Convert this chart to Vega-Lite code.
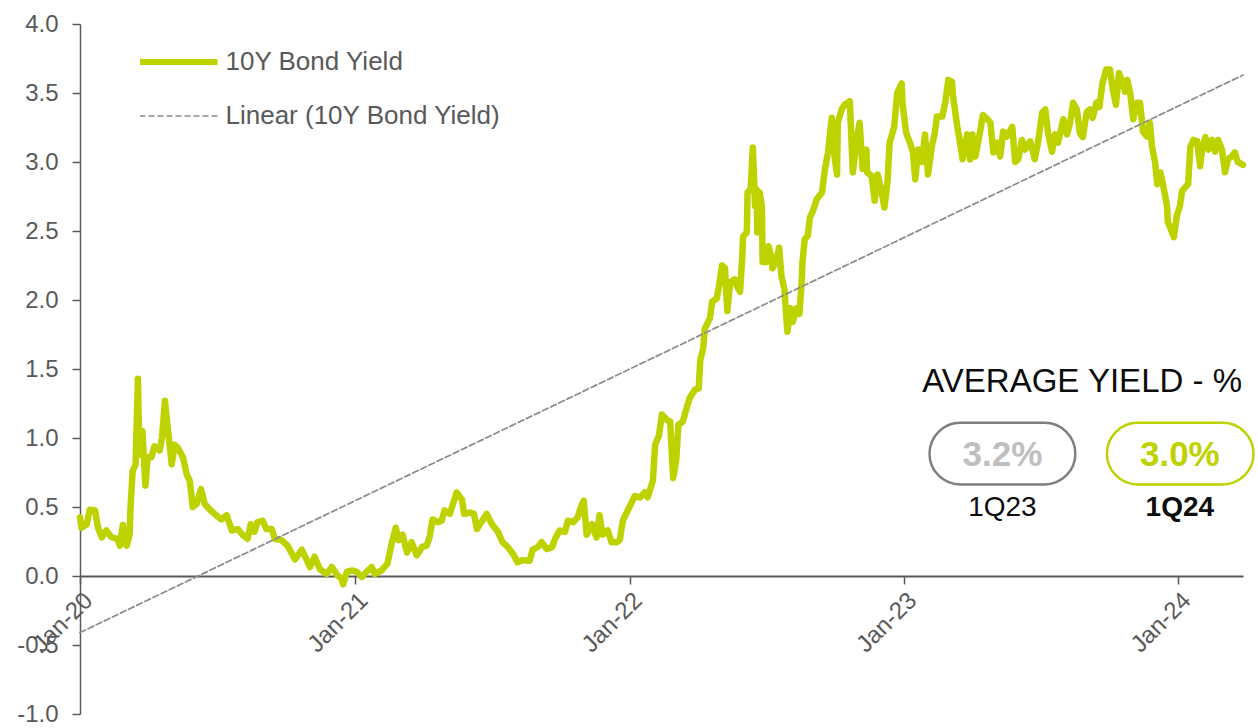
{
  "$schema": "https://vega.github.io/schema/vega-lite/v6.json",
  "width": 1163,
  "height": 690,
  "autosize": {"type": "none"},
  "padding": {"left": 80, "top": 24, "right": 15, "bottom": 14},
  "background": "#ffffff",
  "config": {"view": {"stroke": null}, "font": "Liberation Sans", "axis": {"grid": false}},
  "datasets": {
    "yield": [
      {"series":"10Y Bond Yield","date":"2020-01-01","value":0.425},
      {"series":"10Y Bond Yield","date":"2020-01-03","value":0.35},
      {"series":"10Y Bond Yield","date":"2020-01-10","value":0.375},
      {"series":"10Y Bond Yield","date":"2020-01-14","value":0.48},
      {"series":"10Y Bond Yield","date":"2020-01-21","value":0.475},
      {"series":"10Y Bond Yield","date":"2020-01-25","value":0.35},
      {"series":"10Y Bond Yield","date":"2020-01-30","value":0.28},
      {"series":"10Y Bond Yield","date":"2020-02-05","value":0.33},
      {"series":"10Y Bond Yield","date":"2020-02-12","value":0.28},
      {"series":"10Y Bond Yield","date":"2020-02-20","value":0.27},
      {"series":"10Y Bond Yield","date":"2020-02-23","value":0.22},
      {"series":"10Y Bond Yield","date":"2020-02-27","value":0.37},
      {"series":"10Y Bond Yield","date":"2020-03-03","value":0.22},
      {"series":"10Y Bond Yield","date":"2020-03-07","value":0.30},
      {"series":"10Y Bond Yield","date":"2020-03-08","value":0.475},
      {"series":"10Y Bond Yield","date":"2020-03-11","value":0.76},
      {"series":"10Y Bond Yield","date":"2020-03-15","value":0.81},
      {"series":"10Y Bond Yield","date":"2020-03-18","value":1.43},
      {"series":"10Y Bond Yield","date":"2020-03-20","value":0.88},
      {"series":"10Y Bond Yield","date":"2020-03-24","value":1.05},
      {"series":"10Y Bond Yield","date":"2020-03-28","value":0.655},
      {"series":"10Y Bond Yield","date":"2020-03-31","value":0.86},
      {"series":"10Y Bond Yield","date":"2020-04-05","value":0.86},
      {"series":"10Y Bond Yield","date":"2020-04-09","value":0.94},
      {"series":"10Y Bond Yield","date":"2020-04-16","value":0.91},
      {"series":"10Y Bond Yield","date":"2020-04-19","value":1.0},
      {"series":"10Y Bond Yield","date":"2020-04-23","value":1.27},
      {"series":"10Y Bond Yield","date":"2020-04-27","value":1.06},
      {"series":"10Y Bond Yield","date":"2020-05-02","value":0.81},
      {"series":"10Y Bond Yield","date":"2020-05-06","value":0.95},
      {"series":"10Y Bond Yield","date":"2020-05-10","value":0.93},
      {"series":"10Y Bond Yield","date":"2020-05-17","value":0.86},
      {"series":"10Y Bond Yield","date":"2020-05-22","value":0.735},
      {"series":"10Y Bond Yield","date":"2020-05-26","value":0.69},
      {"series":"10Y Bond Yield","date":"2020-05-30","value":0.50},
      {"series":"10Y Bond Yield","date":"2020-06-04","value":0.52},
      {"series":"10Y Bond Yield","date":"2020-06-10","value":0.63},
      {"series":"10Y Bond Yield","date":"2020-06-15","value":0.52},
      {"series":"10Y Bond Yield","date":"2020-06-22","value":0.48},
      {"series":"10Y Bond Yield","date":"2020-06-28","value":0.45},
      {"series":"10Y Bond Yield","date":"2020-07-07","value":0.41},
      {"series":"10Y Bond Yield","date":"2020-07-14","value":0.44},
      {"series":"10Y Bond Yield","date":"2020-07-21","value":0.33},
      {"series":"10Y Bond Yield","date":"2020-07-29","value":0.34},
      {"series":"10Y Bond Yield","date":"2020-08-04","value":0.30},
      {"series":"10Y Bond Yield","date":"2020-08-11","value":0.27},
      {"series":"10Y Bond Yield","date":"2020-08-15","value":0.375},
      {"series":"10Y Bond Yield","date":"2020-08-20","value":0.32},
      {"series":"10Y Bond Yield","date":"2020-08-24","value":0.39},
      {"series":"10Y Bond Yield","date":"2020-08-31","value":0.40},
      {"series":"10Y Bond Yield","date":"2020-09-05","value":0.34},
      {"series":"10Y Bond Yield","date":"2020-09-12","value":0.34},
      {"series":"10Y Bond Yield","date":"2020-09-16","value":0.27},
      {"series":"10Y Bond Yield","date":"2020-09-25","value":0.26},
      {"series":"10Y Bond Yield","date":"2020-10-03","value":0.22},
      {"series":"10Y Bond Yield","date":"2020-10-13","value":0.12},
      {"series":"10Y Bond Yield","date":"2020-10-22","value":0.19},
      {"series":"10Y Bond Yield","date":"2020-10-30","value":0.10},
      {"series":"10Y Bond Yield","date":"2020-11-02","value":0.065},
      {"series":"10Y Bond Yield","date":"2020-11-08","value":0.14},
      {"series":"10Y Bond Yield","date":"2020-11-15","value":0.05},
      {"series":"10Y Bond Yield","date":"2020-11-24","value":0.015},
      {"series":"10Y Bond Yield","date":"2020-12-01","value":0.065},
      {"series":"10Y Bond Yield","date":"2020-12-08","value":0.007},
      {"series":"10Y Bond Yield","date":"2020-12-14","value":-0.02},
      {"series":"10Y Bond Yield","date":"2020-12-16","value":-0.06},
      {"series":"10Y Bond Yield","date":"2020-12-21","value":0.03},
      {"series":"10Y Bond Yield","date":"2020-12-28","value":0.04},
      {"series":"10Y Bond Yield","date":"2021-01-03","value":0.03},
      {"series":"10Y Bond Yield","date":"2021-01-10","value":-0.007},
      {"series":"10Y Bond Yield","date":"2021-01-16","value":0.03},
      {"series":"10Y Bond Yield","date":"2021-01-23","value":0.065},
      {"series":"10Y Bond Yield","date":"2021-01-27","value":0.015},
      {"series":"10Y Bond Yield","date":"2021-02-05","value":0.04},
      {"series":"10Y Bond Yield","date":"2021-02-13","value":0.09},
      {"series":"10Y Bond Yield","date":"2021-02-19","value":0.245},
      {"series":"10Y Bond Yield","date":"2021-02-24","value":0.35},
      {"series":"10Y Bond Yield","date":"2021-02-28","value":0.26},
      {"series":"10Y Bond Yield","date":"2021-03-05","value":0.30},
      {"series":"10Y Bond Yield","date":"2021-03-11","value":0.17},
      {"series":"10Y Bond Yield","date":"2021-03-17","value":0.245},
      {"series":"10Y Bond Yield","date":"2021-03-24","value":0.15},
      {"series":"10Y Bond Yield","date":"2021-03-31","value":0.21},
      {"series":"10Y Bond Yield","date":"2021-04-06","value":0.22},
      {"series":"10Y Bond Yield","date":"2021-04-10","value":0.28},
      {"series":"10Y Bond Yield","date":"2021-04-14","value":0.41},
      {"series":"10Y Bond Yield","date":"2021-04-21","value":0.39},
      {"series":"10Y Bond Yield","date":"2021-04-26","value":0.40},
      {"series":"10Y Bond Yield","date":"2021-04-30","value":0.475},
      {"series":"10Y Bond Yield","date":"2021-05-07","value":0.45},
      {"series":"10Y Bond Yield","date":"2021-05-11","value":0.52},
      {"series":"10Y Bond Yield","date":"2021-05-16","value":0.605},
      {"series":"10Y Bond Yield","date":"2021-05-23","value":0.555},
      {"series":"10Y Bond Yield","date":"2021-05-26","value":0.45},
      {"series":"10Y Bond Yield","date":"2021-06-03","value":0.46},
      {"series":"10Y Bond Yield","date":"2021-06-08","value":0.45},
      {"series":"10Y Bond Yield","date":"2021-06-12","value":0.34},
      {"series":"10Y Bond Yield","date":"2021-06-19","value":0.40},
      {"series":"10Y Bond Yield","date":"2021-06-25","value":0.45},
      {"series":"10Y Bond Yield","date":"2021-07-02","value":0.375},
      {"series":"10Y Bond Yield","date":"2021-07-10","value":0.32},
      {"series":"10Y Bond Yield","date":"2021-07-16","value":0.245},
      {"series":"10Y Bond Yield","date":"2021-07-23","value":0.21},
      {"series":"10Y Bond Yield","date":"2021-07-30","value":0.16},
      {"series":"10Y Bond Yield","date":"2021-08-05","value":0.10},
      {"series":"10Y Bond Yield","date":"2021-08-12","value":0.115},
      {"series":"10Y Bond Yield","date":"2021-08-21","value":0.11},
      {"series":"10Y Bond Yield","date":"2021-08-25","value":0.19},
      {"series":"10Y Bond Yield","date":"2021-09-01","value":0.21},
      {"series":"10Y Bond Yield","date":"2021-09-06","value":0.245},
      {"series":"10Y Bond Yield","date":"2021-09-13","value":0.195},
      {"series":"10Y Bond Yield","date":"2021-09-20","value":0.21},
      {"series":"10Y Bond Yield","date":"2021-09-24","value":0.27},
      {"series":"10Y Bond Yield","date":"2021-09-30","value":0.33},
      {"series":"10Y Bond Yield","date":"2021-10-07","value":0.32},
      {"series":"10Y Bond Yield","date":"2021-10-11","value":0.40},
      {"series":"10Y Bond Yield","date":"2021-10-18","value":0.39},
      {"series":"10Y Bond Yield","date":"2021-10-24","value":0.425},
      {"series":"10Y Bond Yield","date":"2021-10-29","value":0.51},
      {"series":"10Y Bond Yield","date":"2021-11-01","value":0.545},
      {"series":"10Y Bond Yield","date":"2021-11-05","value":0.30},
      {"series":"10Y Bond Yield","date":"2021-11-12","value":0.375},
      {"series":"10Y Bond Yield","date":"2021-11-18","value":0.28},
      {"series":"10Y Bond Yield","date":"2021-11-22","value":0.44},
      {"series":"10Y Bond Yield","date":"2021-11-26","value":0.30},
      {"series":"10Y Bond Yield","date":"2021-12-03","value":0.33},
      {"series":"10Y Bond Yield","date":"2021-12-08","value":0.245},
      {"series":"10Y Bond Yield","date":"2021-12-15","value":0.245},
      {"series":"10Y Bond Yield","date":"2021-12-19","value":0.26},
      {"series":"10Y Bond Yield","date":"2021-12-23","value":0.40},
      {"series":"10Y Bond Yield","date":"2021-12-30","value":0.48},
      {"series":"10Y Bond Yield","date":"2022-01-08","value":0.58},
      {"series":"10Y Bond Yield","date":"2022-01-15","value":0.57},
      {"series":"10Y Bond Yield","date":"2022-01-21","value":0.605},
      {"series":"10Y Bond Yield","date":"2022-01-25","value":0.57},
      {"series":"10Y Bond Yield","date":"2022-02-01","value":0.69},
      {"series":"10Y Bond Yield","date":"2022-02-04","value":0.95},
      {"series":"10Y Bond Yield","date":"2022-02-09","value":1.015},
      {"series":"10Y Bond Yield","date":"2022-02-13","value":1.17},
      {"series":"10Y Bond Yield","date":"2022-02-20","value":1.13},
      {"series":"10Y Bond Yield","date":"2022-02-24","value":1.12},
      {"series":"10Y Bond Yield","date":"2022-02-28","value":0.71},
      {"series":"10Y Bond Yield","date":"2022-03-04","value":0.835},
      {"series":"10Y Bond Yield","date":"2022-03-07","value":1.095},
      {"series":"10Y Bond Yield","date":"2022-03-13","value":1.12},
      {"series":"10Y Bond Yield","date":"2022-03-18","value":1.22},
      {"series":"10Y Bond Yield","date":"2022-03-22","value":1.29},
      {"series":"10Y Bond Yield","date":"2022-03-29","value":1.35},
      {"series":"10Y Bond Yield","date":"2022-04-03","value":1.36},
      {"series":"10Y Bond Yield","date":"2022-04-05","value":1.56},
      {"series":"10Y Bond Yield","date":"2022-04-09","value":1.65},
      {"series":"10Y Bond Yield","date":"2022-04-11","value":1.79},
      {"series":"10Y Bond Yield","date":"2022-04-18","value":1.87},
      {"series":"10Y Bond Yield","date":"2022-04-21","value":1.99},
      {"series":"10Y Bond Yield","date":"2022-04-27","value":2.01},
      {"series":"10Y Bond Yield","date":"2022-04-30","value":2.10},
      {"series":"10Y Bond Yield","date":"2022-05-04","value":2.25},
      {"series":"10Y Bond Yield","date":"2022-05-08","value":2.23},
      {"series":"10Y Bond Yield","date":"2022-05-11","value":1.92},
      {"series":"10Y Bond Yield","date":"2022-05-15","value":2.13},
      {"series":"10Y Bond Yield","date":"2022-05-21","value":2.15},
      {"series":"10Y Bond Yield","date":"2022-05-24","value":2.10},
      {"series":"10Y Bond Yield","date":"2022-05-28","value":2.06},
      {"series":"10Y Bond Yield","date":"2022-05-31","value":2.32},
      {"series":"10Y Bond Yield","date":"2022-06-01","value":2.46},
      {"series":"10Y Bond Yield","date":"2022-06-06","value":2.49},
      {"series":"10Y Bond Yield","date":"2022-06-07","value":2.78},
      {"series":"10Y Bond Yield","date":"2022-06-11","value":2.80},
      {"series":"10Y Bond Yield","date":"2022-06-14","value":3.105},
      {"series":"10Y Bond Yield","date":"2022-06-17","value":2.68},
      {"series":"10Y Bond Yield","date":"2022-06-19","value":2.80},
      {"series":"10Y Bond Yield","date":"2022-06-20","value":2.49},
      {"series":"10Y Bond Yield","date":"2022-06-23","value":2.78},
      {"series":"10Y Bond Yield","date":"2022-06-26","value":2.68},
      {"series":"10Y Bond Yield","date":"2022-06-27","value":2.275},
      {"series":"10Y Bond Yield","date":"2022-07-02","value":2.275},
      {"series":"10Y Bond Yield","date":"2022-07-05","value":2.39},
      {"series":"10Y Bond Yield","date":"2022-07-09","value":2.30},
      {"series":"10Y Bond Yield","date":"2022-07-10","value":2.23},
      {"series":"10Y Bond Yield","date":"2022-07-15","value":2.28},
      {"series":"10Y Bond Yield","date":"2022-07-19","value":2.38},
      {"series":"10Y Bond Yield","date":"2022-07-22","value":2.175},
      {"series":"10Y Bond Yield","date":"2022-07-26","value":2.08},
      {"series":"10Y Bond Yield","date":"2022-07-29","value":1.84},
      {"series":"10Y Bond Yield","date":"2022-07-30","value":1.77},
      {"series":"10Y Bond Yield","date":"2022-08-03","value":1.94},
      {"series":"10Y Bond Yield","date":"2022-08-06","value":1.84},
      {"series":"10Y Bond Yield","date":"2022-08-11","value":1.94},
      {"series":"10Y Bond Yield","date":"2022-08-15","value":1.90},
      {"series":"10Y Bond Yield","date":"2022-08-18","value":2.13},
      {"series":"10Y Bond Yield","date":"2022-08-19","value":2.275},
      {"series":"10Y Bond Yield","date":"2022-08-22","value":2.44},
      {"series":"10Y Bond Yield","date":"2022-08-26","value":2.465},
      {"series":"10Y Bond Yield","date":"2022-08-29","value":2.60},
      {"series":"10Y Bond Yield","date":"2022-09-02","value":2.645},
      {"series":"10Y Bond Yield","date":"2022-09-07","value":2.73},
      {"series":"10Y Bond Yield","date":"2022-09-14","value":2.78},
      {"series":"10Y Bond Yield","date":"2022-09-18","value":2.95},
      {"series":"10Y Bond Yield","date":"2022-09-22","value":3.07},
      {"series":"10Y Bond Yield","date":"2022-09-27","value":3.32},
      {"series":"10Y Bond Yield","date":"2022-10-01","value":3.02},
      {"series":"10Y Bond Yield","date":"2022-10-04","value":2.91},
      {"series":"10Y Bond Yield","date":"2022-10-05","value":3.285},
      {"series":"10Y Bond Yield","date":"2022-10-10","value":3.38},
      {"series":"10Y Bond Yield","date":"2022-10-14","value":3.415},
      {"series":"10Y Bond Yield","date":"2022-10-21","value":3.44},
      {"series":"10Y Bond Yield","date":"2022-10-25","value":2.925},
      {"series":"10Y Bond Yield","date":"2022-10-30","value":3.16},
      {"series":"10Y Bond Yield","date":"2022-11-03","value":3.285},
      {"series":"10Y Bond Yield","date":"2022-11-07","value":2.95},
      {"series":"10Y Bond Yield","date":"2022-11-12","value":3.09},
      {"series":"10Y Bond Yield","date":"2022-11-13","value":2.925},
      {"series":"10Y Bond Yield","date":"2022-11-19","value":2.90},
      {"series":"10Y Bond Yield","date":"2022-11-23","value":2.72},
      {"series":"10Y Bond Yield","date":"2022-11-27","value":2.91},
      {"series":"10Y Bond Yield","date":"2022-12-02","value":2.79},
      {"series":"10Y Bond Yield","date":"2022-12-06","value":2.67},
      {"series":"10Y Bond Yield","date":"2022-12-10","value":2.85},
      {"series":"10Y Bond Yield","date":"2022-12-13","value":3.14},
      {"series":"10Y Bond Yield","date":"2022-12-19","value":3.255},
      {"series":"10Y Bond Yield","date":"2022-12-23","value":3.50},
      {"series":"10Y Bond Yield","date":"2022-12-29","value":3.57},
      {"series":"10Y Bond Yield","date":"2022-12-30","value":3.43},
      {"series":"10Y Bond Yield","date":"2023-01-04","value":3.21},
      {"series":"10Y Bond Yield","date":"2023-01-09","value":3.14},
      {"series":"10Y Bond Yield","date":"2023-01-13","value":3.07},
      {"series":"10Y Bond Yield","date":"2023-01-16","value":2.875},
      {"series":"10Y Bond Yield","date":"2023-01-20","value":3.09},
      {"series":"10Y Bond Yield","date":"2023-01-25","value":3.00},
      {"series":"10Y Bond Yield","date":"2023-01-29","value":3.20},
      {"series":"10Y Bond Yield","date":"2023-02-02","value":2.91},
      {"series":"10Y Bond Yield","date":"2023-02-07","value":3.11},
      {"series":"10Y Bond Yield","date":"2023-02-11","value":3.21},
      {"series":"10Y Bond Yield","date":"2023-02-14","value":3.33},
      {"series":"10Y Bond Yield","date":"2023-02-21","value":3.33},
      {"series":"10Y Bond Yield","date":"2023-02-25","value":3.43},
      {"series":"10Y Bond Yield","date":"2023-03-01","value":3.595},
      {"series":"10Y Bond Yield","date":"2023-03-06","value":3.58},
      {"series":"10Y Bond Yield","date":"2023-03-07","value":3.49},
      {"series":"10Y Bond Yield","date":"2023-03-13","value":3.255},
      {"series":"10Y Bond Yield","date":"2023-03-16","value":3.16},
      {"series":"10Y Bond Yield","date":"2023-03-20","value":3.02},
      {"series":"10Y Bond Yield","date":"2023-03-26","value":3.20},
      {"series":"10Y Bond Yield","date":"2023-03-30","value":3.02},
      {"series":"10Y Bond Yield","date":"2023-04-02","value":3.20},
      {"series":"10Y Bond Yield","date":"2023-04-06","value":3.04},
      {"series":"10Y Bond Yield","date":"2023-04-12","value":3.21},
      {"series":"10Y Bond Yield","date":"2023-04-16","value":3.34},
      {"series":"10Y Bond Yield","date":"2023-04-22","value":3.31},
      {"series":"10Y Bond Yield","date":"2023-04-26","value":3.285},
      {"series":"10Y Bond Yield","date":"2023-04-30","value":3.07},
      {"series":"10Y Bond Yield","date":"2023-05-05","value":3.14},
      {"series":"10Y Bond Yield","date":"2023-05-09","value":3.04},
      {"series":"10Y Bond Yield","date":"2023-05-13","value":3.22},
      {"series":"10Y Bond Yield","date":"2023-05-18","value":3.185},
      {"series":"10Y Bond Yield","date":"2023-05-25","value":3.255},
      {"series":"10Y Bond Yield","date":"2023-05-29","value":3.00},
      {"series":"10Y Bond Yield","date":"2023-06-02","value":3.02},
      {"series":"10Y Bond Yield","date":"2023-06-07","value":3.16},
      {"series":"10Y Bond Yield","date":"2023-06-11","value":3.09},
      {"series":"10Y Bond Yield","date":"2023-06-18","value":3.15},
      {"series":"10Y Bond Yield","date":"2023-06-24","value":3.02},
      {"series":"10Y Bond Yield","date":"2023-06-28","value":3.13},
      {"series":"10Y Bond Yield","date":"2023-07-04","value":3.36},
      {"series":"10Y Bond Yield","date":"2023-07-08","value":3.38},
      {"series":"10Y Bond Yield","date":"2023-07-12","value":3.20},
      {"series":"10Y Bond Yield","date":"2023-07-17","value":3.075},
      {"series":"10Y Bond Yield","date":"2023-07-21","value":3.20},
      {"series":"10Y Bond Yield","date":"2023-07-25","value":3.14},
      {"series":"10Y Bond Yield","date":"2023-08-01","value":3.31},
      {"series":"10Y Bond Yield","date":"2023-08-06","value":3.20},
      {"series":"10Y Bond Yield","date":"2023-08-10","value":3.285},
      {"series":"10Y Bond Yield","date":"2023-08-14","value":3.43},
      {"series":"10Y Bond Yield","date":"2023-08-19","value":3.38},
      {"series":"10Y Bond Yield","date":"2023-08-23","value":3.21},
      {"series":"10Y Bond Yield","date":"2023-08-27","value":3.18},
      {"series":"10Y Bond Yield","date":"2023-09-01","value":3.36},
      {"series":"10Y Bond Yield","date":"2023-09-05","value":3.38},
      {"series":"10Y Bond Yield","date":"2023-09-09","value":3.32},
      {"series":"10Y Bond Yield","date":"2023-09-14","value":3.43},
      {"series":"10Y Bond Yield","date":"2023-09-18","value":3.40},
      {"series":"10Y Bond Yield","date":"2023-09-22","value":3.57},
      {"series":"10Y Bond Yield","date":"2023-09-27","value":3.67},
      {"series":"10Y Bond Yield","date":"2023-10-02","value":3.67},
      {"series":"10Y Bond Yield","date":"2023-10-06","value":3.52},
      {"series":"10Y Bond Yield","date":"2023-10-10","value":3.415},
      {"series":"10Y Bond Yield","date":"2023-10-14","value":3.645},
      {"series":"10Y Bond Yield","date":"2023-10-19","value":3.57},
      {"series":"10Y Bond Yield","date":"2023-10-22","value":3.51},
      {"series":"10Y Bond Yield","date":"2023-10-25","value":3.595},
      {"series":"10Y Bond Yield","date":"2023-10-29","value":3.50},
      {"series":"10Y Bond Yield","date":"2023-11-02","value":3.31},
      {"series":"10Y Bond Yield","date":"2023-11-07","value":3.43},
      {"series":"10Y Bond Yield","date":"2023-11-11","value":3.43},
      {"series":"10Y Bond Yield","date":"2023-11-15","value":3.22},
      {"series":"10Y Bond Yield","date":"2023-11-20","value":3.185},
      {"series":"10Y Bond Yield","date":"2023-11-24","value":3.285},
      {"series":"10Y Bond Yield","date":"2023-11-27","value":3.11},
      {"series":"10Y Bond Yield","date":"2023-12-01","value":3.00},
      {"series":"10Y Bond Yield","date":"2023-12-04","value":2.84},
      {"series":"10Y Bond Yield","date":"2023-12-08","value":2.925},
      {"series":"10Y Bond Yield","date":"2023-12-12","value":2.825},
      {"series":"10Y Bond Yield","date":"2023-12-17","value":2.68},
      {"series":"10Y Bond Yield","date":"2023-12-18","value":2.565},
      {"series":"10Y Bond Yield","date":"2023-12-23","value":2.50},
      {"series":"10Y Bond Yield","date":"2023-12-26","value":2.455},
      {"series":"10Y Bond Yield","date":"2023-12-30","value":2.61},
      {"series":"10Y Bond Yield","date":"2024-01-03","value":2.68},
      {"series":"10Y Bond Yield","date":"2024-01-06","value":2.79},
      {"series":"10Y Bond Yield","date":"2024-01-10","value":2.815},
      {"series":"10Y Bond Yield","date":"2024-01-14","value":2.84},
      {"series":"10Y Bond Yield","date":"2024-01-17","value":3.11},
      {"series":"10Y Bond Yield","date":"2024-01-21","value":3.16},
      {"series":"10Y Bond Yield","date":"2024-01-26","value":3.15},
      {"series":"10Y Bond Yield","date":"2024-01-30","value":2.97},
      {"series":"10Y Bond Yield","date":"2024-02-02","value":3.11},
      {"series":"10Y Bond Yield","date":"2024-02-06","value":3.18},
      {"series":"10Y Bond Yield","date":"2024-02-10","value":3.09},
      {"series":"10Y Bond Yield","date":"2024-02-15","value":3.16},
      {"series":"10Y Bond Yield","date":"2024-02-19","value":3.075},
      {"series":"10Y Bond Yield","date":"2024-02-23","value":3.16},
      {"series":"10Y Bond Yield","date":"2024-02-28","value":3.09},
      {"series":"10Y Bond Yield","date":"2024-03-03","value":2.925},
      {"series":"10Y Bond Yield","date":"2024-03-07","value":3.02},
      {"series":"10Y Bond Yield","date":"2024-03-12","value":3.04},
      {"series":"10Y Bond Yield","date":"2024-03-16","value":3.07},
      {"series":"10Y Bond Yield","date":"2024-03-20","value":3.00},
      {"series":"10Y Bond Yield","date":"2024-03-27","value":2.98},
      {"series":"Linear (10Y Bond Yield)","date":"2020-01-01","value":-0.41},
      {"series":"Linear (10Y Bond Yield)","date":"2024-03-27","value":3.63}
    ],
    "averages": [
      {"period":"1Q23","average":"3.2%"},
      {"period":"1Q24","average":"3.0%"}
    ],
    "heading": [
      {"label":"AVERAGE YIELD - %"}
    ]
  },
  "layer": [
    {
      "data": {"name": "yield"},
      "mark": {"type": "line", "strokeCap": "round", "strokeJoin": "round"},
      "encoding": {
        "x": {
          "field": "date", "type": "temporal",
          "scale": {"domain": [{"year": 2020, "month": 1, "date": 1}, {"year": 2024, "month": 3, "date": 27}]},
          "axis": {
            "title": null, "orient": "bottom", "offset": -138, "format": "%b-%y",
            "tickCount": {"interval": "year", "step": 1},
            "labelAngle": -45, "labelFontSize": 24, "labelFont": "Liberation Sans", "labelColor": "#595959",
            "domainColor": "#595959", "domainWidth": 2, "tickColor": "#595959", "tickWidth": 1.5, "tickSize": 8,
            "labelPadding": 4, "grid": false, "labelOverlap": false, "labelBound": false, "labelFlush": false
          }
        },
        "y": {
          "field": "value", "type": "quantitative",
          "scale": {"domain": [-1, 4], "nice": false, "zero": false},
          "axis": {
            "title": null, "values": [-1, -0.5, 0, 0.5, 1, 1.5, 2, 2.5, 3, 3.5, 4], "format": ".1f",
            "labelExpr": "replace(datum.label, '−', '-')",
            "labelFontSize": 24, "labelFont": "Liberation Sans", "labelColor": "#595959",
            "domainColor": "#595959", "domainWidth": 1.5, "tickColor": "#595959", "tickWidth": 1.5, "tickSize": 8,
            "labelPadding": 14, "grid": false
          }
        },
        "color": {
          "field": "series", "type": "nominal",
          "scale": {"domain": ["10Y Bond Yield", "Linear (10Y Bond Yield)"], "range": ["#BED200", "#8C8C8C"]},
          "legend": {
            "title": null, "orient": "none", "legendX": 60, "legendY": 23, "symbolType": "stroke", "symbolSize": 6084,
            "symbolOffset": 25.5,
            "clipHeight": 30, "rowPadding": 24, "labelFontSize": 26, "labelFont": "Liberation Sans", "labelColor": "#595959",
            "padding": 0, "labelOffset": 34, "labelLimit": 400,
            "encode": {"symbols": {"update": {"strokeWidth": {"signal": "datum.value === 'Linear (10Y Bond Yield)' ? 1.5 : 6"}}}}
          }
        },
        "strokeDash": {
          "field": "series", "type": "nominal",
          "scale": {"domain": ["10Y Bond Yield", "Linear (10Y Bond Yield)"], "range": [[1, 0], [6, 3]]},
          "legend": {
            "title": null, "orient": "none", "legendX": 60, "legendY": 23, "symbolType": "stroke", "symbolSize": 6084,
            "symbolOffset": 25.5,
            "clipHeight": 30, "rowPadding": 24, "labelFontSize": 26, "labelFont": "Liberation Sans", "labelColor": "#595959",
            "padding": 0, "labelOffset": 34, "labelLimit": 400,
            "encode": {"symbols": {"update": {"strokeWidth": {"signal": "datum.value === 'Linear (10Y Bond Yield)' ? 1.5 : 6"}}}}
          }
        },
        "strokeWidth": {"condition": {"test": "datum.series === 'Linear (10Y Bond Yield)'", "value": 1.75}, "value": 6.5}
      }
    },
    {
      "data": {"name": "heading"},
      "mark": {"type": "text", "fontSize": 33, "font": "Liberation Sans", "color": "#0D0D0D", "align": "center", "baseline": "middle"},
      "encoding": {
        "x": {"datum": {"year": 2023, "month": 8, "date": 26}, "type": "temporal"},
        "y": {"datum": 1.405, "type": "quantitative"},
        "text": {"field": "label"}
      }
    },
    {
      "data": {"name": "averages"},
      "transform": [{"filter": "datum.period === '1Q23'"}],
      "mark": {"type": "rect", "fill": "#ffffff", "stroke": "#7F7F7F", "strokeWidth": 2.5, "cornerRadius": 31},
      "encoding": {
        "x": {"datum": {"year": 2023, "month": 2, "date": 4}, "type": "temporal"},
        "x2": {"datum": {"year": 2023, "month": 8, "date": 17}},
        "y": {"datum": 1.11, "type": "quantitative"},
        "y2": {"datum": 0.663}
      }
    },
    {
      "data": {"name": "averages"},
      "transform": [{"filter": "datum.period === '1Q24'"}],
      "mark": {"type": "rect", "fill": "#ffffff", "stroke": "#BED200", "strokeWidth": 2.5, "cornerRadius": 31},
      "encoding": {
        "x": {"datum": {"year": 2023, "month": 9, "date": 28}, "type": "temporal"},
        "x2": {"datum": {"year": 2024, "month": 4, "date": 10}},
        "y": {"datum": 1.11, "type": "quantitative"},
        "y2": {"datum": 0.663}
      }
    },
    {
      "data": {"name": "averages"},
      "transform": [{"filter": "datum.period === '1Q23'"}],
      "mark": {"type": "text", "fontSize": 35, "fontWeight": "bold", "font": "Liberation Sans", "color": "#BFBFBF", "align": "center", "baseline": "middle"},
      "encoding": {
        "x": {"datum": {"year": 2023, "month": 5, "date": 12}, "type": "temporal"},
        "y": {"datum": 0.875, "type": "quantitative"},
        "text": {"field": "average"}
      }
    },
    {
      "data": {"name": "averages"},
      "transform": [{"filter": "datum.period === '1Q24'"}],
      "mark": {"type": "text", "fontSize": 35, "fontWeight": "bold", "font": "Liberation Sans", "color": "#BED200", "align": "center", "baseline": "middle"},
      "encoding": {
        "x": {"datum": {"year": 2024, "month": 1, "date": 3}, "type": "temporal"},
        "y": {"datum": 0.875, "type": "quantitative"},
        "text": {"field": "average"}
      }
    },
    {
      "data": {"name": "averages"},
      "transform": [{"filter": "datum.period === '1Q23'"}],
      "mark": {"type": "text", "fontSize": 28, "font": "Liberation Sans", "color": "#0D0D0D", "align": "center", "baseline": "middle"},
      "encoding": {
        "x": {"datum": {"year": 2023, "month": 5, "date": 12}, "type": "temporal"},
        "y": {"datum": 0.49, "type": "quantitative"},
        "text": {"field": "period"}
      }
    },
    {
      "data": {"name": "averages"},
      "transform": [{"filter": "datum.period === '1Q24'"}],
      "mark": {"type": "text", "fontSize": 28, "fontWeight": "bold", "font": "Liberation Sans", "color": "#0D0D0D", "align": "center", "baseline": "middle"},
      "encoding": {
        "x": {"datum": {"year": 2024, "month": 1, "date": 3}, "type": "temporal"},
        "y": {"datum": 0.49, "type": "quantitative"},
        "text": {"field": "period"}
      }
    }
  ]
}
